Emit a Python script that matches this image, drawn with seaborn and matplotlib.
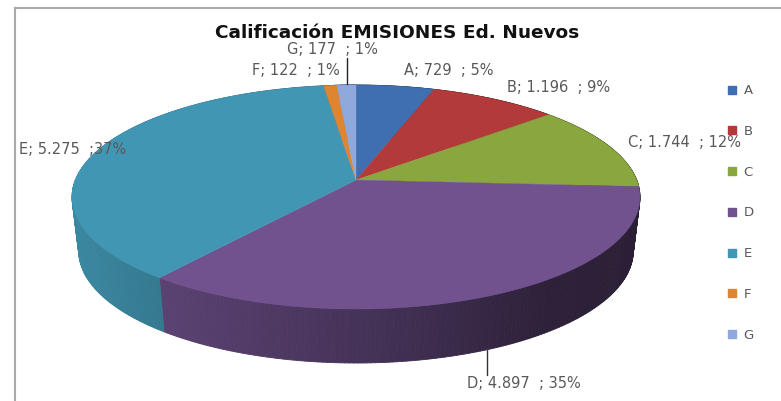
import matplotlib
matplotlib.use("Agg")
import matplotlib.pyplot as plt
import seaborn as sns
import numpy as np
from matplotlib.collections import PolyCollection
from matplotlib.lines import Line2D
from matplotlib.patches import Polygon

# Datos del grafico
categorias = ["A", "B", "C", "D", "E", "F", "G"]
valores = [729, 1196, 1744, 4897, 5275, 122, 177]
etiquetas = ["A; 729  ; 5%", "B; 1.196  ; 9%", "C; 1.744  ; 12%", "D; 4.897  ; 35%",
             "E; 5.275  ;37%", "F; 122  ; 1%", "G; 177  ; 1%"]
colores = ["#3f6fb0", "#b23a3b", "#8aa63e", "#71528f", "#4197b3", "#df8431", "#8fa9dc"]
titulo = "Calificación EMISIONES Ed. Nuevos"

sns.set_theme(style="white")
plt.rcParams["font.family"] = ["DejaVu Sans"]
paleta = sns.color_palette(colores)

fig = plt.figure(figsize=(7.81, 4.01), dpi=100)
ax = fig.add_axes([14.5 / 781, 0, 1 - 14.5 / 781, (401 - 8) / 401])

wedges, _ = ax.pie(valores, colors=paleta, startangle=90, counterclock=False)


# Perspectiva del disco: circulo unidad a pixeles de la imagen
def proyectar(xy, ancho=280.7, cx=356, cy=180, caida=0):
    w = 1 + 0.152 * xy[:, 1]
    return np.column_stack([cx + ancho * xy[:, 0] / w, cy + caida - 109.4 * xy[:, 1] / w])


def sombra(x):
    return np.interp(x, [72, 160, 400, 550, 640], [0.9, 0.8, 0.58, 0.4, 0.38])


tapas = []
for w, color in zip(wedges, paleta):
    t = np.radians(np.linspace(w.theta1, w.theta2, 160))
    arco = np.column_stack([np.cos(t), np.sin(t)])
    w.remove()
    arriba = proyectar(arco)
    abajo = proyectar(arco, ancho=274, caida=54)
    quads = [[arriba[i], arriba[i + 1], abajo[i + 1], abajo[i]] for i in range(len(arco) - 1)]
    xm = arriba[:-1, 0] / 2 + arriba[1:, 0] / 2
    caras = [tuple(np.array(color) * s) for s in sombra(xm)]
    ax.add_collection(PolyCollection(quads, facecolors=caras, edgecolors=caras, linewidths=0.6, zorder=1))
    tapas.append((np.vstack([proyectar(np.zeros((1, 2))), arriba]), color))

for verts, color in tapas:
    ax.add_patch(Polygon(verts, closed=True, facecolor=color, edgecolor=color, linewidth=0.3, zorder=2))

ax.set_aspect("auto")
ax.set_xlim(14.5, 781)
ax.set_ylim(401, 8)
ax.set_xticks([])
ax.set_yticks([])
ax.set_frame_on(True)
sns.despine(ax=ax, top=False, right=True, bottom=True)
for lado in ["left", "top"]:
    ax.spines[lado].set_color("#a9a9a9")
    ax.spines[lado].set_linewidth(1.5)

ax.text(397, 33, titulo, ha="center", va="center", fontsize=13.3, fontweight="bold", color="#111111")

# Etiquetas de datos
pos_etiquetas = [(404, 71), (507, 88), (628, 143), (467, 384), (19, 150), (252, 71), (287, 50)]
for texto, (x, y) in zip(etiquetas, pos_etiquetas):
    ax.text(x, y, texto, ha="left", va="center", fontsize=10.5, color="#595959", zorder=5)

ax.plot([347, 347], [58, 84], color="#222222", lw=1, zorder=4)
ax.plot([487, 487], [347, 375], color="#333333", lw=1, zorder=4)

# Leyenda
marcas = [Line2D([], [], marker="s", linestyle="", markersize=5.5, color=c) for c in paleta]
ax.legend(marcas, categorias, loc="center left", bbox_to_anchor=(0.905, 0.469), frameon=False,
          fontsize=9.5, labelspacing=2.1, handletextpad=-0.1, labelcolor="#595959",
          bbox_transform=fig.transFigure)

fig.savefig("out.png", dpi=100)
